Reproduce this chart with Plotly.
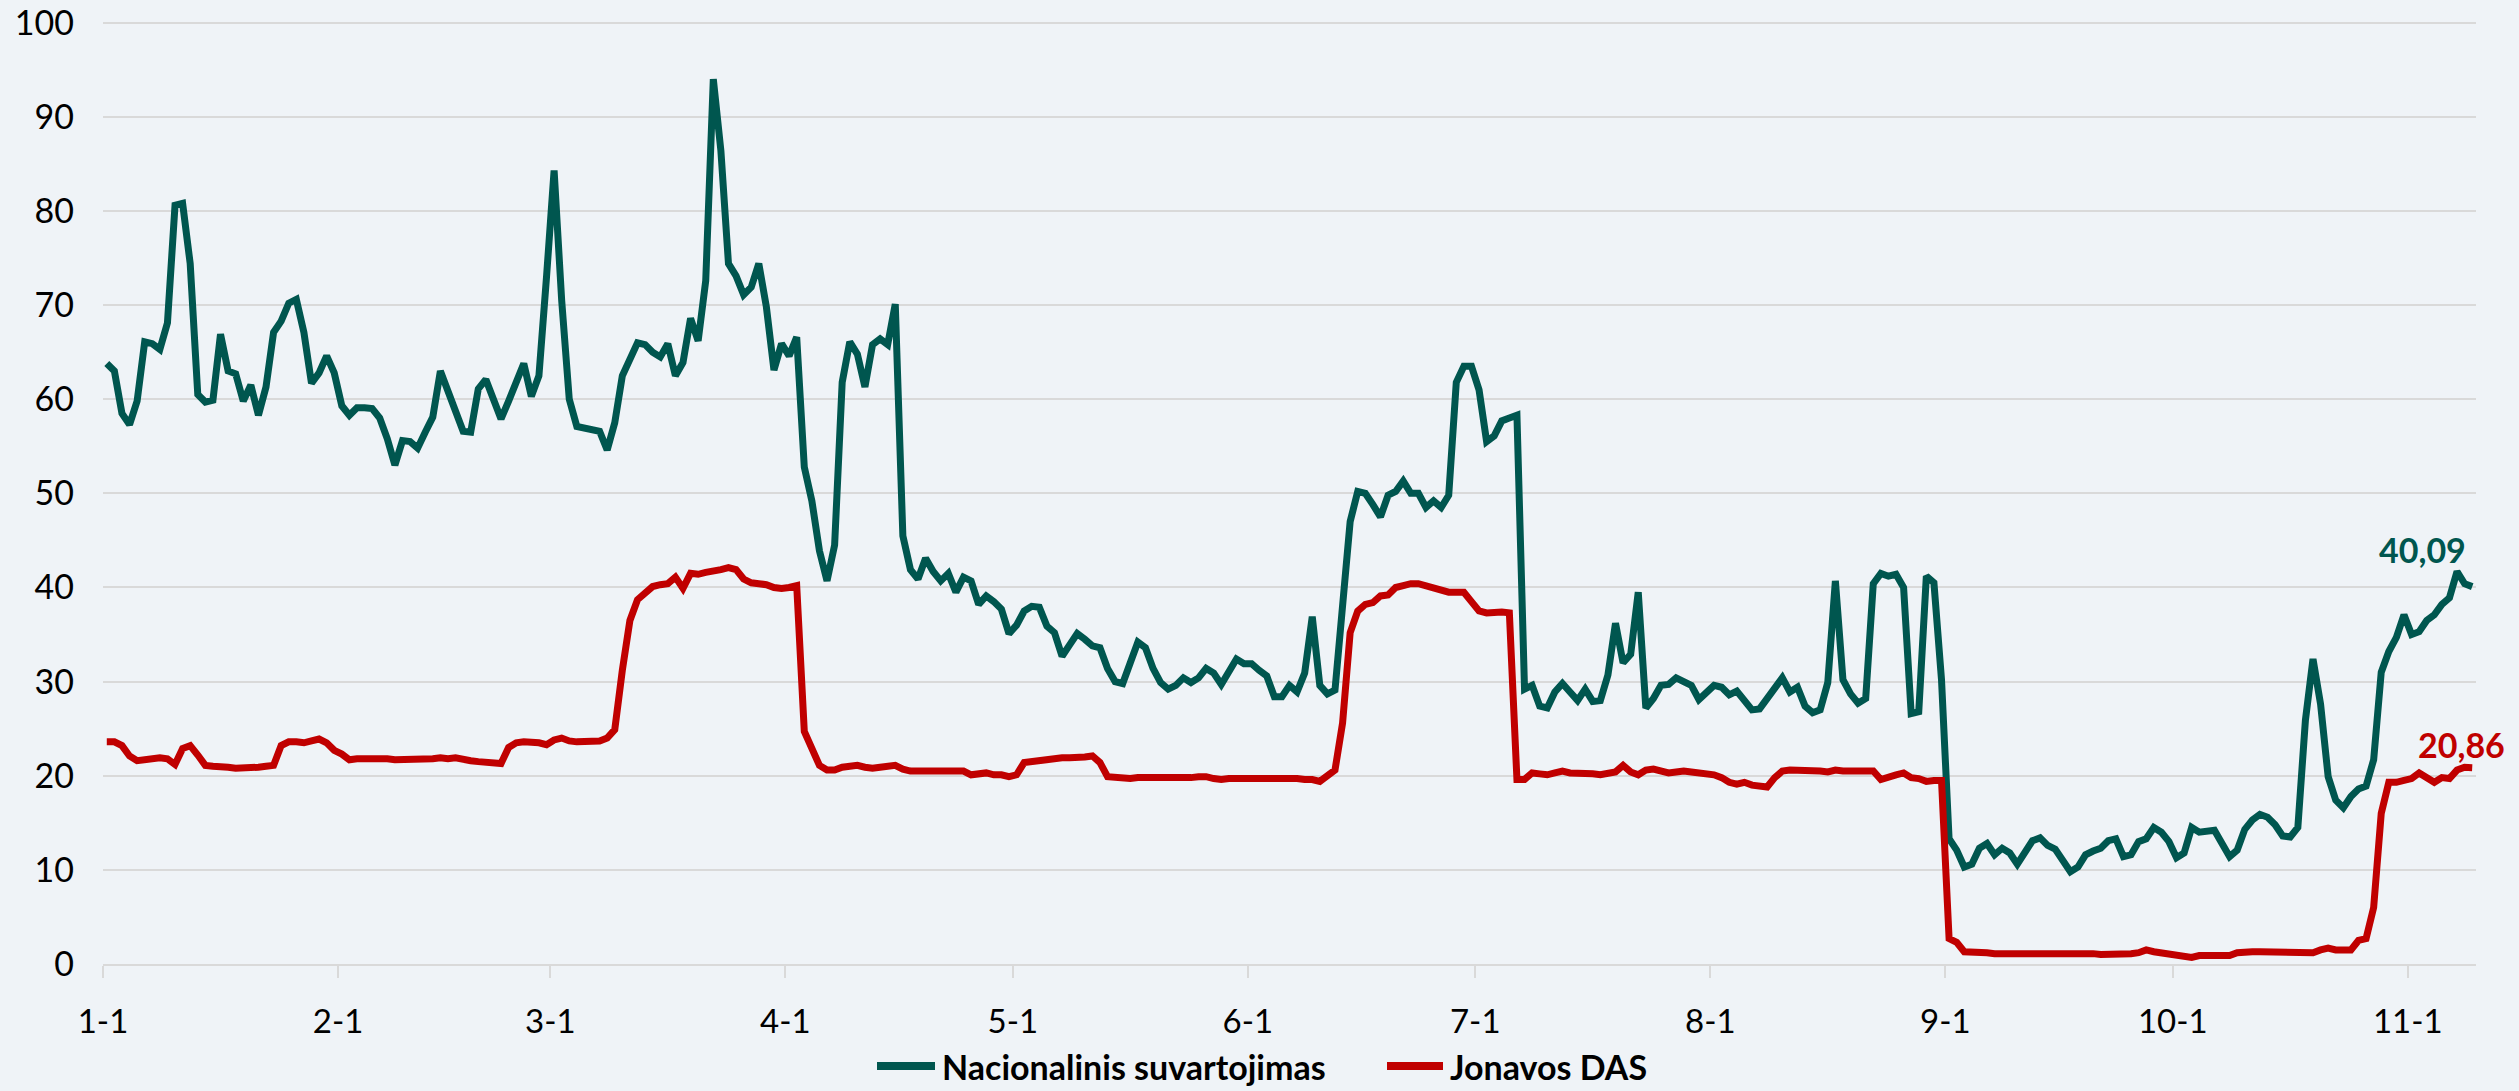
import datetime as dt
import plotly.graph_objects as go

# Daily values, 2025-01-01 .. 2025-11-09, one line per month
nacionalinis = [
    63.8, 63.0, 58.5, 57.3, 59.8, 66.1, 65.9, 65.3, 68.1, 80.6, 80.8, 74.4, 60.5, 59.7, 59.9, 66.9,
    63.0, 62.7, 59.8, 61.5, 58.3, 61.3, 67.1, 68.3, 70.2, 70.6, 67.1, 61.7, 62.8, 64.6, 62.8,
    59.3, 58.3, 59.1, 59.1, 59.0, 58.0, 55.8, 53.0, 55.6, 55.5, 54.8, 56.5, 58.1, 63.0,
    61.0, 58.6, 56.6, 56.5, 61.1, 62.1, 60.1, 57.9, 59.8, 62.0, 63.8, 60.3, 62.5, 73.0,
    84.3, 70.5, 60.0, 57.1, 56.9, 56.8, 56.6, 54.6, 57.5, 62.5, 64.3, 66.0, 65.8, 65.0, 64.5, 65.9,
    62.5, 63.9, 68.6, 66.2, 72.6, 94.0, 86.4, 74.4, 73.1, 71.1, 71.9, 74.4, 69.8, 63.1, 65.9,
    64.6, 66.6, 52.8, 49.2, 43.9, 40.7, 44.5, 61.8, 66.1, 64.8, 61.3, 65.8, 66.4, 65.8, 70.1,
    45.5, 41.9, 40.9, 43.1, 41.7, 40.7, 41.5, 39.5, 41.1, 40.7, 38.2, 39.1, 38.5, 37.7, 35.1,
    36.0, 37.5, 38.0, 37.9, 35.9, 35.2, 32.7, 33.9, 35.1, 34.5, 33.8, 33.6, 31.4, 30.0, 29.8, 32.0,
    34.2, 33.6, 31.4, 29.9, 29.2, 29.6, 30.4, 29.9, 30.4, 31.4, 30.9, 29.7, 30.9, 32.4, 31.9,
    31.9, 31.2, 30.6, 28.4, 28.4, 29.6, 28.9, 30.9, 36.9, 29.6, 28.7, 29.1, 37.5, 47.0, 50.2,
    50.0, 48.8, 47.5, 49.8, 50.2, 51.3, 50.0, 50.0, 48.5, 49.2, 48.5, 49.8, 61.8, 63.5, 63.5,
    61.0, 55.5, 56.1, 57.7, 58.0, 58.3, 29.2, 29.6, 27.4, 27.2, 28.9, 29.8, 28.9, 28.0, 29.2, 27.9,
    28.0, 30.7, 36.2, 32.0, 32.9, 39.5, 27.2, 28.2, 29.6, 29.7, 30.4, 29.9, 29.6, 28.1, 28.9,
    29.6, 29.4, 28.6, 29.0, 27.9, 27.0, 27.1, 28.2, 29.6, 30.4, 28.9, 29.4, 27.4, 26.7, 27.0, 29.9,
    40.7, 30.2, 28.7, 27.7, 28.2, 40.4, 41.5, 41.2, 41.4, 40.0, 26.6, 26.8, 41.2, 40.5, 30.2,
    13.3, 12.1, 10.3, 10.6, 12.3, 12.8, 11.6, 12.3, 11.8, 10.6, 12.0, 13.1, 13.4, 12.6, 12.2,
    11.0, 9.8, 10.3, 11.6, 12.0, 12.3, 13.1, 13.3, 11.4, 11.6, 13.0, 13.3, 14.5, 14.0, 13.0,
    11.3, 11.8, 14.5, 14.0, 14.1, 14.2, 12.8, 11.4, 12.1, 14.3, 15.3, 15.9, 15.6, 14.8, 13.6, 13.5,
    14.5, 25.9, 32.4, 27.6, 19.9, 17.4, 16.6, 17.8, 18.6, 18.9, 21.7, 31.0, 33.2, 34.7, 37.1,
    35.0, 35.3, 36.5, 37.1, 38.2, 38.9, 41.7, 40.4, 40.09,
]

jonavos = [
    23.6, 23.6, 23.2, 22.1, 21.6, 21.7, 21.9, 21.9, 21.8, 21.2, 22.9, 23.2, 22.2, 21.1, 21.0, 21.0,
    20.9, 20.8, 20.8, 20.9, 20.9, 21.0, 21.1, 23.2, 23.6, 23.6, 23.5, 23.7, 23.9, 23.5, 22.7,
    22.3, 21.7, 21.8, 21.8, 21.9, 21.8, 21.8, 21.7, 21.7, 21.7, 21.7, 21.8, 21.8, 21.9,
    21.8, 21.9, 21.7, 21.6, 21.5, 21.4, 21.4, 21.3, 23.0, 23.5, 23.6, 23.6, 23.5, 23.3,
    23.8, 24.0, 23.7, 23.6, 23.6, 23.6, 23.7, 24.0, 24.9, 31.2, 36.5, 38.7, 39.5, 40.1, 40.3, 40.4,
    41.1, 39.9, 41.5, 41.4, 41.6, 41.7, 41.9, 42.1, 41.9, 40.9, 40.5, 40.4, 40.3, 40.0, 39.9,
    40.0, 40.2, 24.7, 22.7, 21.1, 20.6, 20.6, 20.9, 21.0, 21.1, 20.9, 20.8, 20.9, 21.0, 21.1,
    20.7, 20.5, 20.5, 20.5, 20.5, 20.6, 20.6, 20.5, 20.5, 20.1, 20.2, 20.3, 20.1, 20.1, 19.9,
    20.1, 21.4, 21.5, 21.6, 21.7, 21.9, 21.9, 21.9, 21.9, 22.0, 22.1, 21.4, 19.9, 19.8, 19.8, 19.7,
    19.8, 19.8, 19.8, 19.7, 19.7, 19.7, 19.7, 19.8, 19.9, 19.9, 19.7, 19.6, 19.7, 19.7, 19.8,
    19.7, 19.7, 19.7, 19.7, 19.8, 19.7, 19.7, 19.6, 19.6, 19.4, 20.1, 20.6, 25.6, 35.2, 37.5,
    38.2, 38.4, 39.1, 39.2, 40.0, 40.2, 40.4, 40.4, 40.2, 39.9, 39.7, 39.5, 39.5, 39.5, 38.5,
    37.5, 37.3, 37.4, 37.4, 37.3, 19.6, 19.6, 20.3, 20.2, 20.1, 20.3, 20.5, 20.3, 20.3, 20.3, 20.2,
    20.1, 20.3, 20.4, 21.1, 20.4, 20.1, 20.6, 20.7, 20.5, 20.3, 20.4, 20.5, 20.4, 20.3, 20.3,
    20.1, 19.8, 19.3, 19.1, 19.3, 19.0, 18.9, 18.8, 19.8, 20.5, 20.6, 20.6, 20.6, 20.5, 20.5, 20.4,
    20.6, 20.5, 20.5, 20.6, 20.6, 20.5, 19.6, 19.9, 20.1, 20.3, 19.8, 19.7, 19.4, 19.5, 19.5,
    2.7, 2.3, 1.3, 1.3, 1.2, 1.2, 1.1, 1.1, 1.2, 1.2, 1.1, 1.1, 1.1, 1.2, 1.2,
    1.2, 1.2, 1.1, 1.1, 1.1, 1.0, 1.0, 1.1, 1.1, 1.1, 1.2, 1.5, 1.3, 1.2, 1.1,
    1.0, 0.9, 0.7, 0.9, 0.9, 0.9, 0.9, 0.9, 1.2, 1.3, 1.3, 1.3, 1.3, 1.2, 1.2, 1.2,
    1.2, 1.2, 1.2, 1.5, 1.7, 1.5, 1.5, 1.5, 2.5, 2.7, 6.0, 16.0, 19.3, 19.3, 19.5,
    19.7, 20.3, 19.7, 19.3, 19.8, 19.7, 20.6, 20.9, 20.86,
]

month_starts = ["2025-01-01", "2025-02-01", "2025-03-01", "2025-04-01", "2025-05-01", "2025-06-01",
                "2025-07-01", "2025-08-01", "2025-09-01", "2025-10-01", "2025-11-01"]
month_labels = ["1-1", "2-1", "3-1", "4-1", "5-1", "6-1", "7-1", "8-1", "9-1", "10-1", "11-1"]

y_ticks = [0, 10, 20, 30, 40, 50, 60, 70, 80, 90, 100]

series_names = ["Nacionalinis suvartojimas", "Jonavos DAS"]
last_label_nac = "40,09"
last_label_jon = "20,86"

GREEN = "#00564F"
RED = "#C00000"
BG = "#EFF3F7"
GRID = "#D9D9D9"
FONT = "Lato"

W, H = 2519, 1091
M_L, M_R, M_T, M_B = 103, 43, 18, 127
PLOT_W = W - M_L - M_R
PLOT_H = H - M_T - M_B


def px_to_paper_x(px):
    return (px - M_L) / PLOT_W


def px_to_paper_y(py):
    return (H - M_B - py) / PLOT_H


# each daily value sits in the middle of its day slot
start = dt.datetime(2025, 1, 1)
days = [start + dt.timedelta(days=i, hours=12) for i in range(len(nacionalinis))]

fig = go.Figure()
fig.add_trace(go.Scatter(x=days, y=nacionalinis, mode="lines", name=series_names[0],
                         line=dict(color=GREEN, width=7), showlegend=False))
fig.add_trace(go.Scatter(x=days, y=jonavos, mode="lines", name=series_names[1],
                         line=dict(color=RED, width=7), showlegend=False))

# end-of-series value labels
fig.add_annotation(x=days[-1], y=nacionalinis[-1], text=last_label_nac, showarrow=False,
                   xanchor="center", yanchor="middle", xshift=-50, yshift=37,
                   font=dict(family=FONT, size=34, color=GREEN, weight="bold"))
fig.add_annotation(x=days[-1], y=jonavos[-1], text=last_label_jon, showarrow=False,
                   xanchor="center", yanchor="middle", xshift=-11, yshift=23,
                   font=dict(family=FONT, size=34, color=RED, weight="bold"))

# legend row under the axis: a line sample followed by the series name
legend_y = px_to_paper_y(1066)
for (x0, x1, tx), color, name in zip([(877, 935, 940), (1387, 1443, 1448)],
                                      [GREEN, RED], series_names):
    fig.add_shape(type="line", xref="paper", yref="paper",
                  x0=px_to_paper_x(x0), x1=px_to_paper_x(x1), y0=legend_y, y1=legend_y,
                  line=dict(color=color, width=8))
    fig.add_annotation(xref="paper", yref="paper", x=px_to_paper_x(tx), y=legend_y,
                       text=name, showarrow=False, xanchor="left", yanchor="middle",
                       font=dict(family=FONT, size=34, color="#000000", weight="bold"))

fig.update_layout(
    template="none",
    width=W, height=H,
    margin=dict(l=M_L, r=M_R, t=M_T, b=M_B, pad=0, autoexpand=False),
    paper_bgcolor=BG, plot_bgcolor=BG,
    font=dict(family=FONT, size=33, color="#000000"),
    showlegend=False,
    xaxis=dict(
        type="date", range=["2025-01-01", "2025-11-10"], automargin=False,
        tickmode="array", tickvals=month_starts, ticktext=month_labels,
        showgrid=False, zeroline=False,
        showline=True, linecolor=GRID, linewidth=2,
        ticks="outside", ticklen=12, tickwidth=2, tickcolor=GRID,
        ticklabelstandoff=15,
        tickfont=dict(family=FONT, size=33, color="#000000"),
    ),
    yaxis=dict(
        range=[0, 100.5], automargin=False,
        tickmode="array", tickvals=y_ticks,
        showgrid=True, gridcolor=GRID, gridwidth=2,
        zeroline=False, showline=False, ticks="",
        ticklabelstandoff=28,
        tickfont=dict(family=FONT, size=34, color="#000000"),
    ),
)

fig.write_html("out.html")
